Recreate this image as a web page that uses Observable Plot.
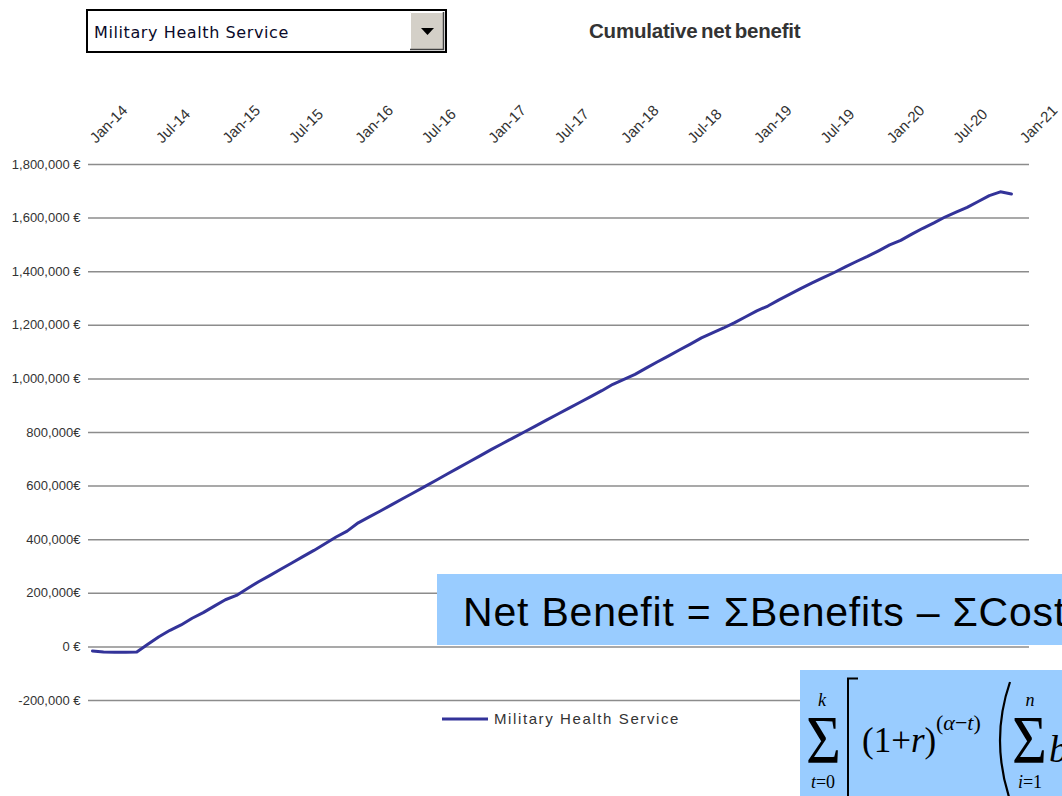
<!DOCTYPE html>
<html>
<head>
<meta charset="utf-8">
<script src="https://cdn.jsdelivr.net/npm/d3@7"></script>
<script src="https://cdn.jsdelivr.net/npm/@observablehq/plot@0.6"></script>
<style>
  html, body { margin: 0; padding: 0; background: #fff; }
  #wrap { position: relative; width: 1062px; height: 796px; overflow: hidden; }
  #chart { position: absolute; left: 0; top: 0; }
  #overlay { position: absolute; left: 0; top: 0; pointer-events: none; }
</style>
</head>
<body>
<div id="wrap">
  <div id="chart"></div>
  <svg id="overlay" width="1062" height="796" viewBox="0 0 1062 796"></svg>
</div>
<script>
// ---- data ----
const seriesName = "Military Health Service";
const chartTitle = "Cumulative net benefit";
const formulaText = "Net Benefit = \u03A3Benefits \u2013 \u03A3Costs";

// x tick labels (every 6 months, month index 0 = Jan-14)
const xTickMonths = [0, 6, 12, 18, 24, 30, 36, 42, 48, 54, 60, 66, 72, 78, 84];
const xLabels = ["Jan-14", "Jul-14", "Jan-15", "Jul-15", "Jan-16", "Jul-16", "Jan-17", "Jul-17",
                 "Jan-18", "Jul-18", "Jan-19", "Jul-19", "Jan-20", "Jul-20", "Jan-21"];

// y ticks and their labels
const yTicks = [-200000, 0, 200000, 400000, 600000, 800000, 1000000, 1200000, 1400000, 1600000, 1800000];
const yLabels = ["-200,000 \u20AC", "0 \u20AC", "200,000\u20AC", "400,000\u20AC", "600,000\u20AC", "800,000\u20AC",
                 "1,000,000 \u20AC", "1,200,000 \u20AC", "1,400,000 \u20AC", "1,600,000 \u20AC", "1,800,000 \u20AC"];

// monthly cumulative net benefit, Jan-14 .. Dec-20 (84 months)
const netBenefit = [
  -15000, -19000, -20000, -20000, -19000, 10000, 38000, 62000, 82000, 107000, 128000, 152000,
  176000, 192000, 218000, 243000, 266000, 290000, 313000, 337000, 360000, 385000, 410000, 432000,
  463000, 485000, 507000, 530000, 553000, 575000, 598000, 621000, 644000, 667000, 690000, 713000,
  736000, 758000, 780000, 802000, 824000, 846000, 868000, 890000, 912000, 934000, 956000, 980000,
  998000, 1017000, 1040000, 1063000, 1085000, 1108000, 1130000, 1153000, 1172000, 1190000, 1210000, 1232000,
  1254000, 1272000, 1295000, 1316000, 1338000, 1358000, 1378000, 1397000, 1418000, 1438000, 1457000, 1478000,
  1500000, 1517000, 1540000, 1562000, 1582000, 1604000, 1622000, 1640000, 1662000, 1684000, 1698000, 1690000
];

const data = netBenefit.map((v, i) => ({month: i, value: v}));
const lineColor = "#333399";

const chart = Plot.plot({
  width: 1062,
  height: 796,
  marginLeft: 88,
  marginRight: 33,
  marginTop: 164,
  marginBottom: 96,
  style: {fontFamily: "'Liberation Sans', Arial, sans-serif", background: "transparent", color: "#333"},
  x: {type: "linear", domain: [-0.36, 84.63], axis: null},
  y: {type: "linear", domain: [-200000, 1800000], axis: null},
  marks: [
    Plot.gridY(yTicks, {stroke: "#8c8c8c", strokeOpacity: 1, strokeWidth: 1.5}),
    Plot.axisY(yTicks, {
      label: null, tickSize: 0, tickPadding: 8, fontSize: 13, fill: "#333",
      tickFormat: d => yLabels[yTicks.indexOf(d)]
    }),
    Plot.axisX(xTickMonths, {
      label: null, anchor: "top", tickSize: 0, tickPadding: 24, tickRotate: -45, textAnchor: "start",
      fontSize: 15, fill: "#333",
      tickFormat: d => xLabels[xTickMonths.indexOf(d)]
    }),
    Plot.line(data, {x: "month", y: "value", stroke: lineColor, strokeWidth: 3, strokeLinejoin: "round", strokeLinecap: "round"})
  ]
});
document.getElementById("chart").appendChild(chart);

// ---- overlay decorations ----
const ov = d3.select("#overlay");
const sans = "'Liberation Sans', Arial, sans-serif";
const serif = "'Liberation Serif', 'Times New Roman', serif";

// dropdown
ov.append("rect").attr("x", 87).attr("y", 10).attr("width", 359).attr("height", 42)
  .attr("fill", "#fff").attr("stroke", "#000").attr("stroke-width", 2);
ov.append("text").attr("x", 94).attr("y", 38).attr("font-family", "'DejaVu Sans', Tahoma, sans-serif")
  .attr("font-size", 16).attr("letter-spacing", 0.6).attr("fill", "#0a0a2a").text(seriesName);
ov.append("rect").attr("x", 410).attr("y", 12).attr("width", 34).attr("height", 38).attr("fill", "#d4d0c8");
ov.append("path").attr("d", "M410.5,50 V12.5 H444").attr("fill", "none").attr("stroke", "#fff").attr("stroke-width", 1);
ov.append("path").attr("d", "M410,49.5 H443.5 V12").attr("fill", "none").attr("stroke", "#404040").attr("stroke-width", 1.5);
ov.append("path").attr("d", "M421,28 H434 L427.5,35 Z").attr("fill", "#000");

// title
ov.append("text").attr("x", 589).attr("y", 38).attr("font-family", sans).attr("font-weight", "bold")
  .attr("font-size", 20.5).attr("letter-spacing", -0.2).attr("word-spacing", -2).attr("fill", "#333").text(chartTitle);

// legend
ov.append("line").attr("x1", 442).attr("x2", 488).attr("y1", 719).attr("y2", 719)
  .attr("stroke", lineColor).attr("stroke-width", 3);
ov.append("text").attr("x", 494).attr("y", 724).attr("font-family", sans).attr("font-size", 15)
  .attr("letter-spacing", 1.6).attr("fill", "#333").text(seriesName);

// box 1: Net benefit definition
ov.append("rect").attr("x", 437).attr("y", 574).attr("width", 625).attr("height", 71).attr("fill", "#99ccff");
ov.append("text").attr("x", 463).attr("y", 626).attr("font-family", sans).attr("font-size", 41)
  .attr("letter-spacing", 0.8).attr("fill", "#000").text(formulaText);

// box 2: discounted sum formula
const g = ov.append("g").attr("transform", "translate(800,670)");
g.append("rect").attr("x", 0).attr("y", 0).attr("width", 262).attr("height", 126).attr("fill", "#99ccff");
function sigma(x) {
  g.append("text").attr("transform", `translate(${x},92) scale(1,1.12)`).attr("font-family", serif)
    .attr("font-size", 60).attr("fill", "#000").text("\u03A3");
}
sigma(6);
sigma(212);
g.append("text").attr("x", 22).attr("y", 36).attr("text-anchor", "middle").attr("font-family", serif)
  .attr("font-style", "italic").attr("font-size", 18).text("k");
const t0 = g.append("text").attr("x", 23).attr("y", 118).attr("text-anchor", "middle").attr("font-family", serif).attr("font-size", 18);
t0.append("tspan").attr("font-style", "italic").text("t");
t0.append("tspan").text("=0");
g.append("text").attr("x", 230).attr("y", 36).attr("text-anchor", "middle").attr("font-family", serif)
  .attr("font-style", "italic").attr("font-size", 18).text("n");
const i1 = g.append("text").attr("x", 230).attr("y", 118).attr("text-anchor", "middle").attr("font-family", serif).attr("font-size", 18);
i1.append("tspan").attr("font-style", "italic").text("i");
i1.append("tspan").text("=1");
// bracket
g.append("path").attr("d", "M58,8.5 H48 V130").attr("fill", "none").attr("stroke", "#000").attr("stroke-width", 2);
// (1+r)
const base = g.append("text").attr("x", 62).attr("y", 82).attr("font-family", serif).attr("font-size", 35).attr("fill", "#000");
base.append("tspan").text("(1+");
base.append("tspan").attr("font-style", "italic").text("r");
base.append("tspan").text(")");
// exponent
const ex = g.append("text").attr("x", 136).attr("y", 60).attr("font-family", serif).attr("font-size", 22).attr("fill", "#000");
ex.append("tspan").text("(");
ex.append("tspan").attr("font-style", "italic").text("\u03B1");
ex.append("tspan").text("\u2212");
ex.append("tspan").attr("font-style", "italic").text("t");
ex.append("tspan").text(")");
// big parenthesis
g.append("path").attr("d", "M210,12 Q190,70 210,130").attr("fill", "none").attr("stroke", "#000").attr("stroke-width", 2.2);
// b
g.append("text").attr("x", 249).attr("y", 92).attr("font-family", serif).attr("font-style", "italic")
  .attr("font-size", 38).attr("fill", "#000").text("b");
</script>
</body>
</html>
